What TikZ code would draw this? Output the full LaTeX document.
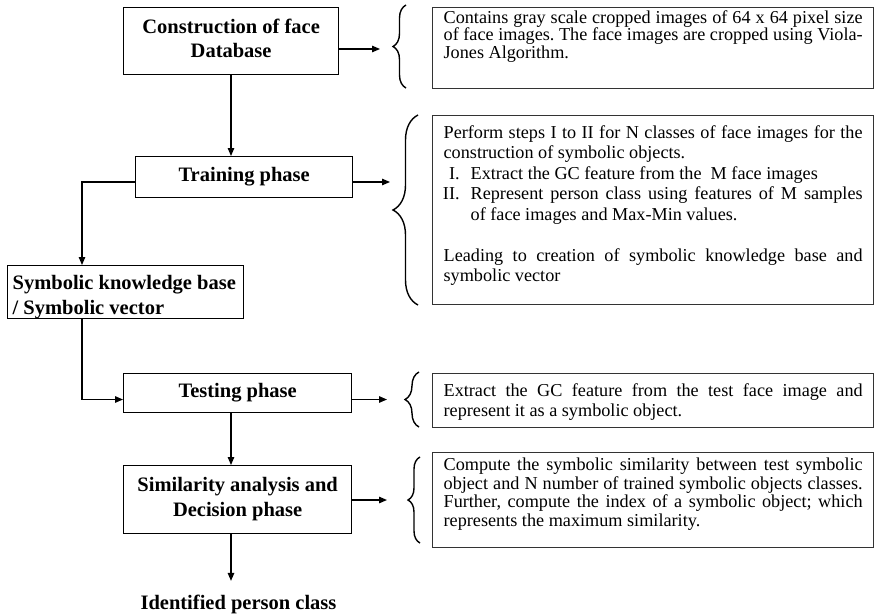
\documentclass[tikz,border=0pt]{standalone}
\usepackage{fontspec}
\setmainfont{Liberation Serif}
\usetikzlibrary{arrows.meta,decorations.pathreplacing}
\newcommand{\bfl}{\fontsize{20.5}{24.5}\selectfont\bfseries}
\newcommand{\rgl}[1]{\fontsize{18.2}{#1}\selectfont\frenchspacing\hyphenpenalty=10000\exhyphenpenalty=10000\tolerance=10000}
\begin{document}
\begin{tikzpicture}[x=1pt,y=-1pt,
  box/.style={draw=black, line width=1.3pt, inner sep=0pt, anchor=north west},
  tbox/.style={draw=black!80, line width=1.3pt, inner xsep=11pt, inner ysep=0pt, anchor=north west},
  arr/.style={line width=1.3pt, -{Triangle[length=8pt,width=6.5pt]}},
  brc/.style={line width=1.4pt, decorate, decoration={brace, amplitude=#1}}]
\useasboundingbox[fill=white] (0,0) rectangle (876,616);

% left flow boxes
\node[box] (A) at (123,7) {\parbox[c][67pt][t]{215pt}{\centering\bfl\vspace*{11pt}Construction of face\\Database}};
\node[box] (B) at (135,156) {\parbox[c][41pt][t]{217pt}{\centering\bfl\vspace*{10.6pt}Training phase}};
\node[box] (C) at (7,265) {\parbox[c][53pt][t]{236pt}{\bfl\leftskip=5pt\vspace*{10pt}Symbolic knowledge base\\/ Symbolic vector}};
\node[box] (D) at (123,373) {\parbox[c][39pt][t]{228pt}{\centering\bfl\vspace*{9.6pt}Testing phase}};
\node[box] (E) at (123,465) {\parbox[c][68pt][t]{228pt}{\centering\bfl\vspace*{12pt}Similarity analysis and\\Decision phase}};
\node[inner ysep=14pt, anchor=base] (F) at (238.5,609.5) {\bfl Identified person class};

% description boxes
\node[tbox] (T1) at (432,7) {\parbox[c][81pt][t]{419pt}{\rgl{17.5pt}\vspace*{3pt}Contains gray scale cropped images of 64 x 64 pixel size\linebreak of face images. The face images are cropped using Viola-\linebreak Jones Algorithm.}};
\node[tbox] (T2) at (432,115) {\parbox[c][189pt][t]{419pt}{\rgl{20.5pt}\vspace*{9.6pt}Perform steps I to II for N classes of face images for the\linebreak construction of symbolic objects.\par
\noindent\hangindent=27pt\hangafter=1\makebox[27pt][r]{I.\hspace{11pt}}Extract the GC feature from the\ \ M face images\par
\noindent\hangindent=27pt\hangafter=1\makebox[27pt][r]{II.\hspace{11pt}}Represent person class using features of M samples\linebreak of face images and Max-Min values.\par
\vspace{20.5pt}
Leading to creation of symbolic knowledge base and\linebreak symbolic vector}};
\node[tbox] (T3) at (432,373) {\parbox[c][54pt][t]{419pt}{\rgl{20pt}\vspace*{9.6pt}Extract the GC feature from the test face image and\linebreak represent it as a symbolic object.}};
\node[tbox] (T4) at (432,452) {\parbox[c][95pt][t]{419pt}{\rgl{18.8pt}\vspace*{5pt}Compute the symbolic similarity between test symbolic\linebreak object and N number of trained symbolic objects classes.\linebreak Further, compute the index of a symbolic object; which\linebreak represents the maximum similarity.}};

% helper coordinates
\coordinate (xv) at (231,0);
\coordinate (xl) at (82,0);
\coordinate (e1) at (380,49);
\coordinate (e2) at (390,182);
\coordinate (e3) at (387,399.5);
\coordinate (e4) at (387,500);

% connectors
\draw[arr] (A.south -| xv) -- (B.north -| xv);
\draw[arr] (A.east |- e1) -- (e1);
\draw[arr] (B.west |- e2) -| (C.north -| xl);
\draw[arr] (B.east |- e2) -- (e2);
\draw[arr] (C.south -| xl) |- (D.west |- e3);
\draw[arr] (D.east |- e3) -- (e3);
\draw[arr] (D.south -| xv) -- (E.north -| xv);
\draw[arr] (E.east |- e4) -- (e4);
\draw[arr] (E.south -| xv) -- (F.north -| xv);

% braces
\draw[brc=13pt] (406,88) -- (406,5);
\draw[brc=25pt] (418,305) -- (418,115);
\draw[brc=14pt] (419,427) -- (419,372);
\draw[brc=12pt] (420,543) -- (420,457);
\end{tikzpicture}
\end{document}
